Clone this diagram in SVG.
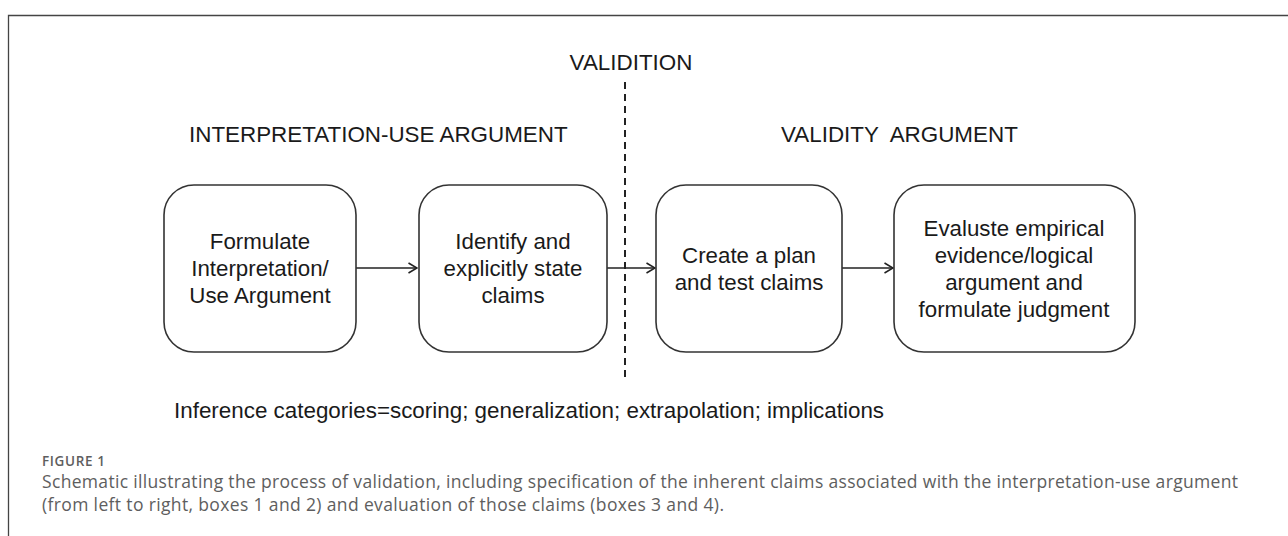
<svg xmlns="http://www.w3.org/2000/svg" width="1288" height="536" viewBox="0 0 1288 536">
<defs>
<style>
.t{font-family:"Liberation Sans",Arial,sans-serif;font-size:22.3px;fill:#1a1a1a;text-anchor:middle}
.h{font-family:"Liberation Sans",Arial,sans-serif;font-size:22.4px;fill:#1a1a1a}
.box{fill:#fff;stroke:#333;stroke-width:1.6}
.c{stroke:#222;stroke-width:1.6;fill:none}
.cap{font-family:"Open Sans","Noto Sans",sans-serif;fill:#5e5e5e}
</style>
<marker id="ah" viewBox="0 0 10 12" refX="9.5" refY="6" markerWidth="10" markerHeight="12" markerUnits="userSpaceOnUse" orient="auto">
<path d="M1 1 L9.5 6 L1 11" fill="none" stroke="#222" stroke-width="1.6"/>
</marker>
</defs>
<rect width="1288" height="536" fill="#fff"/>
<path d="M8.5 536 V15.5 H1288" fill="none" stroke="#444" stroke-width="1.3"/>

<text class="h" x="631" y="70" text-anchor="middle">VALIDITION</text>
<text class="h" x="189" y="142">INTERPRETATION-USE ARGUMENT</text>
<text class="h" x="781" y="142" xml:space="preserve">VALIDITY  ARGUMENT</text>

<g id="connectors">
<line x1="625" y1="82" x2="625" y2="382" stroke="#222" stroke-width="2" stroke-dasharray="7,5"/>
<line class="c" x1="356" y1="268" x2="417" y2="268" marker-end="url(#ah)"/>
<line class="c" x1="607" y1="268" x2="655" y2="268" marker-end="url(#ah)"/>
<line class="c" x1="842" y1="268" x2="893" y2="268" marker-end="url(#ah)"/>
</g>

<g id="box1">
<rect class="box" x="164" y="185" width="192" height="167" rx="30"/>
<text class="t" x="260" y="249">Formulate</text>
<text class="t" x="260" y="276">Interpretation/</text>
<text class="t" x="260" y="303">Use Argument</text>
</g>
<g id="box2">
<rect class="box" x="419" y="185" width="188" height="167" rx="30"/>
<text class="t" x="513" y="249">Identify and</text>
<text class="t" x="513" y="276">explicitly state</text>
<text class="t" x="513" y="303">claims</text>
</g>
<g id="box3">
<rect class="box" x="656" y="185" width="186" height="167" rx="30"/>
<text class="t" x="749" y="263">Create a plan</text>
<text class="t" x="749" y="290">and test claims</text>
</g>
<g id="box4">
<rect class="box" x="894" y="185" width="241" height="167" rx="30"/>
<text class="t" x="1014" y="236">Evaluste empirical</text>
<text class="t" x="1014" y="263">evidence/logical</text>
<text class="t" x="1014" y="290">argument and</text>
<text class="t" x="1014" y="317">formulate judgment</text>
</g>

<text class="h" x="174" y="418">Inference categories=scoring; generalization; extrapolation; implications</text>

<text class="cap" x="42" y="466" font-size="13.5" font-weight="600" fill="#666" textLength="63" lengthAdjust="spacing">FIGURE 1</text>
<text class="cap" x="42" y="488" font-size="17.5" textLength="1196" lengthAdjust="spacing">Schematic illustrating the process of validation, including specification of the inherent claims associated with the interpretation-use argument</text>
<text class="cap" x="42" y="511" font-size="17.5" textLength="682" lengthAdjust="spacing">(from left to right, boxes 1 and 2) and evaluation of those claims (boxes 3 and 4).</text>
</svg>
